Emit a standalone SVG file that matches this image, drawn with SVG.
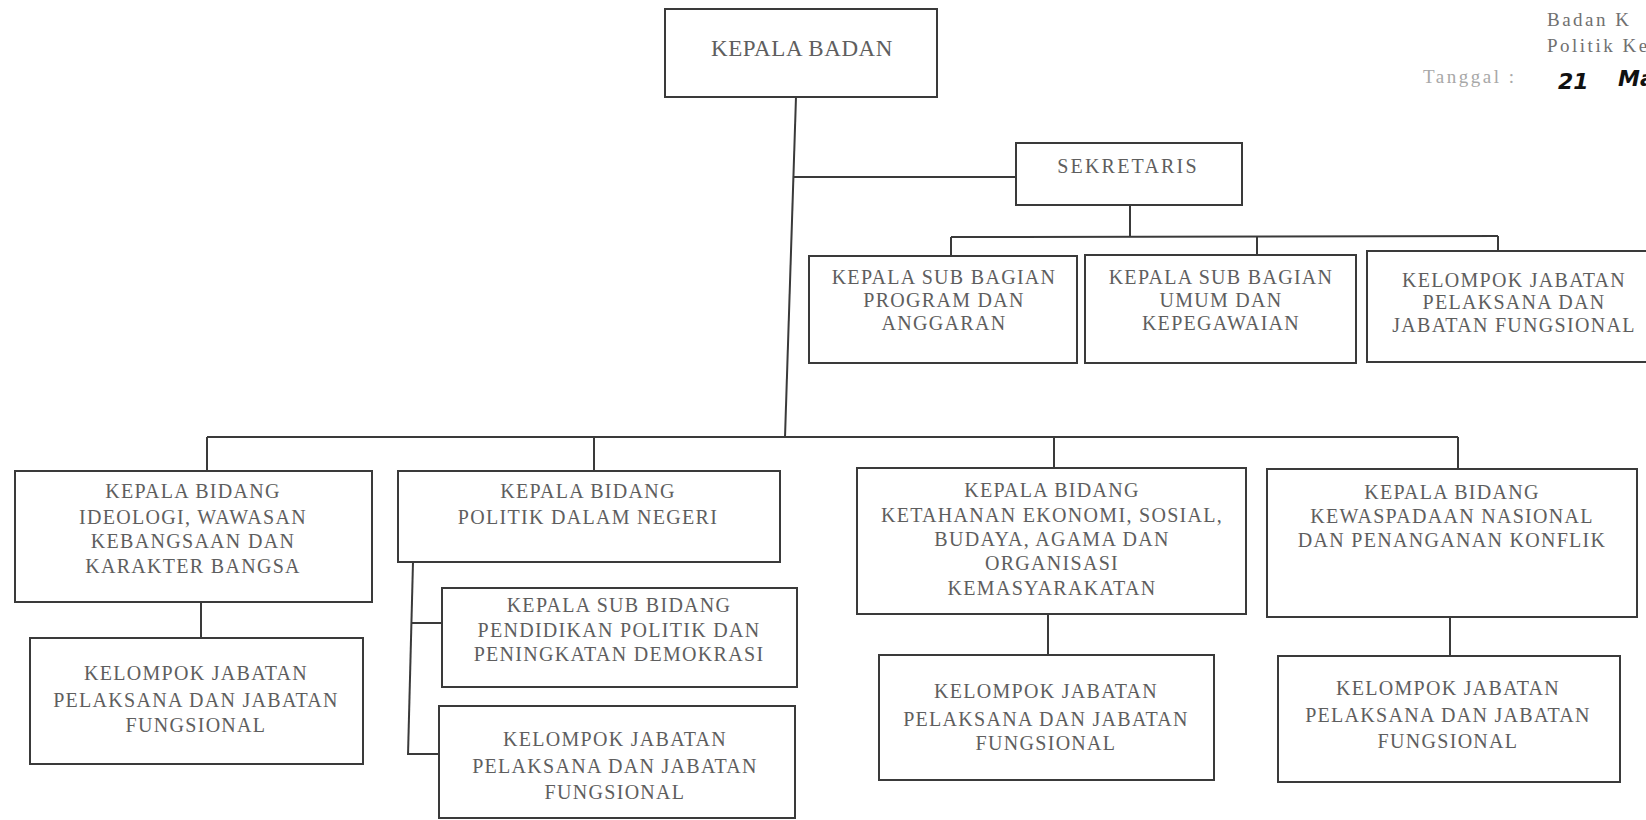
<svg xmlns="http://www.w3.org/2000/svg" width="1646" height="820" viewBox="0 0 1646 820">
<style>
.bx{fill:none;stroke:#3a3a3a;stroke-width:2}
.ln{fill:none;stroke:#3a3a3a;stroke-width:2}
.t{font-family:"Liberation Serif","Times New Roman",serif;font-size:20px;fill:#5e5e5e;text-anchor:middle;letter-spacing:1.3px}
.h{font-family:"Liberation Serif","Times New Roman",serif;font-size:19px;fill:#707070;letter-spacing:2.5px}
.hw{font-family:"DejaVu Sans",sans-serif;font-size:22px;fill:#111111;font-style:italic;font-weight:bold}
</style>
<rect width="1646" height="820" fill="#ffffff"/>

<g id="connectors">
<line class="ln" x1="796" y1="97" x2="785" y2="437"/>
<line class="ln" x1="794" y1="177" x2="1016" y2="177"/>
<line class="ln" x1="1130" y1="205" x2="1130" y2="237"/>
<line class="ln" x1="951" y1="237" x2="1498" y2="236"/>
<line class="ln" x1="951" y1="237" x2="951" y2="256"/>
<line class="ln" x1="1257" y1="237" x2="1257" y2="255"/>
<line class="ln" x1="1498" y1="236" x2="1498" y2="251"/>
<line class="ln" x1="207" y1="437" x2="1458" y2="437"/>
<line class="ln" x1="207" y1="437" x2="207" y2="471"/>
<line class="ln" x1="594" y1="437" x2="594" y2="471"/>
<line class="ln" x1="1054" y1="437" x2="1054" y2="468"/>
<line class="ln" x1="1458" y1="437" x2="1458" y2="469"/>
<line class="ln" x1="201" y1="602" x2="201" y2="638"/>
<line class="ln" x1="413" y1="562" x2="408" y2="755"/>
<line class="ln" x1="412" y1="623" x2="442" y2="623"/>
<line class="ln" x1="408" y1="754" x2="439" y2="754"/>
<line class="ln" x1="1048" y1="614" x2="1048" y2="655"/>
<line class="ln" x1="1450" y1="617" x2="1450" y2="656"/>
</g>

<g id="kepala-badan">
<rect class="bx" x="665" y="9" width="272" height="88"/>
<text class="t" x="802" y="56" style="font-size:23px;letter-spacing:0.6px">KEPALA BADAN</text>
</g>

<g id="sekretaris">
<rect class="bx" x="1016" y="143" width="226" height="62"/>
<text class="t" x="1128" y="173" style="letter-spacing:2.2px">SEKRETARIS</text>
</g>

<g id="subbag-program">
<rect class="bx" x="809" y="256" width="268" height="107"/>
<text class="t" x="944" y="284">KEPALA SUB BAGIAN</text>
<text class="t" x="944" y="307">PROGRAM DAN</text>
<text class="t" x="944" y="330">ANGGARAN</text>
</g>

<g id="subbag-umum">
<rect class="bx" x="1085" y="255" width="271" height="108"/>
<text class="t" x="1221" y="284">KEPALA SUB BAGIAN</text>
<text class="t" x="1221" y="307">UMUM DAN</text>
<text class="t" x="1221" y="330">KEPEGAWAIAN</text>
</g>

<g id="kelompok-sekretariat">
<rect class="bx" x="1367" y="251" width="300" height="111"/>
<text class="t" x="1514" y="287">KELOMPOK JABATAN</text>
<text class="t" x="1514" y="309">PELAKSANA DAN</text>
<text class="t" x="1514" y="332">JABATAN FUNGSIONAL</text>
</g>

<g id="bidang-ideologi">
<rect class="bx" x="15" y="471" width="357" height="131"/>
<text class="t" x="193" y="498">KEPALA BIDANG</text>
<text class="t" x="193" y="524">IDEOLOGI, WAWASAN</text>
<text class="t" x="193" y="548">KEBANGSAAN DAN</text>
<text class="t" x="193" y="573">KARAKTER BANGSA</text>
</g>

<g id="kelompok-ideologi">
<rect class="bx" x="30" y="638" width="333" height="126"/>
<text class="t" x="196" y="680">KELOMPOK JABATAN</text>
<text class="t" x="196" y="707">PELAKSANA DAN JABATAN</text>
<text class="t" x="196" y="732">FUNGSIONAL</text>
</g>

<g id="bidang-politik">
<rect class="bx" x="398" y="471" width="382" height="91"/>
<text class="t" x="588" y="498">KEPALA BIDANG</text>
<text class="t" x="588" y="524">POLITIK DALAM NEGERI</text>
</g>

<g id="subbid-pendidikan">
<rect class="bx" x="442" y="588" width="355" height="99"/>
<text class="t" x="619" y="612">KEPALA SUB BIDANG</text>
<text class="t" x="619" y="637">PENDIDIKAN POLITIK DAN</text>
<text class="t" x="619" y="661">PENINGKATAN DEMOKRASI</text>
</g>

<g id="kelompok-politik">
<rect class="bx" x="439" y="706" width="356" height="112"/>
<text class="t" x="615" y="746">KELOMPOK JABATAN</text>
<text class="t" x="615" y="773">PELAKSANA DAN JABATAN</text>
<text class="t" x="615" y="799">FUNGSIONAL</text>
</g>

<g id="bidang-ketahanan">
<rect class="bx" x="857" y="468" width="389" height="146"/>
<text class="t" x="1052" y="497">KEPALA BIDANG</text>
<text class="t" x="1052" y="522">KETAHANAN EKONOMI, SOSIAL,</text>
<text class="t" x="1052" y="546">BUDAYA, AGAMA DAN</text>
<text class="t" x="1052" y="570">ORGANISASI</text>
<text class="t" x="1052" y="595">KEMASYARAKATAN</text>
</g>

<g id="kelompok-ketahanan">
<rect class="bx" x="879" y="655" width="335" height="125"/>
<text class="t" x="1046" y="698">KELOMPOK JABATAN</text>
<text class="t" x="1046" y="726">PELAKSANA DAN JABATAN</text>
<text class="t" x="1046" y="750">FUNGSIONAL</text>
</g>

<g id="bidang-kewaspadaan">
<rect class="bx" x="1267" y="469" width="370" height="148"/>
<text class="t" x="1452" y="499">KEPALA BIDANG</text>
<text class="t" x="1452" y="523">KEWASPADAAN NASIONAL</text>
<text class="t" x="1452" y="547">DAN PENANGANAN KONFLIK</text>
</g>

<g id="kelompok-kewaspadaan">
<rect class="bx" x="1278" y="656" width="342" height="126"/>
<text class="t" x="1448" y="695">KELOMPOK JABATAN</text>
<text class="t" x="1448" y="722">PELAKSANA DAN JABATAN</text>
<text class="t" x="1448" y="748">FUNGSIONAL</text>
</g>

<g id="pengesahan">
<text class="h" x="1547" y="26">Badan K</text>
<text class="h" x="1547" y="52">Politik Ke</text>
<text class="h" x="1423" y="83" style="fill:#a8a8a8">Tanggal :</text>
<text class="hw" x="1558" y="89">21</text>
<text class="hw" x="1618" y="86">Ma</text>
</g>
</svg>
